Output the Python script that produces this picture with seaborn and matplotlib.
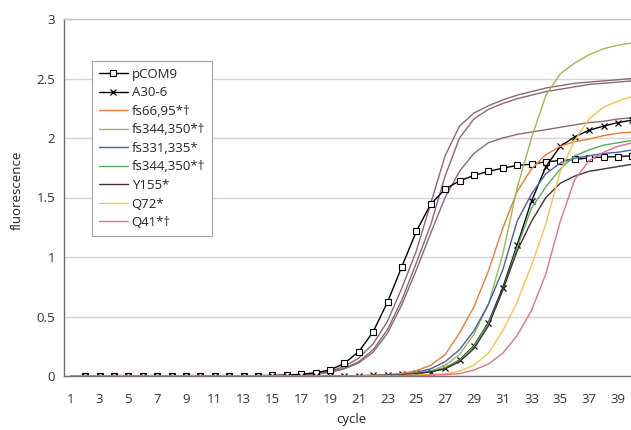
import numpy as np
import pandas as pd
import seaborn as sns
import matplotlib.pyplot as plt

# cycle numbers and fluorescence readings per construct
cycles = list(range(1, 41))

pcom9 = [np.nan, 0, 0, 0, 0, 0, 0, 0, 0, 0,
         0, 0.001, 0.002, 0.003, 0.005, 0.008, 0.014, 0.028, 0.05, 0.106,
         0.204, 0.371, 0.62, 0.92, 1.215, 1.444, 1.57, 1.64, 1.685, 1.72,
         1.746, 1.77, 1.78, 1.80, 1.81, 1.82, 1.833, 1.84, 1.844, 1.85]
a30_6 = [np.nan, 0, 0, 0, 0, 0, 0, 0, 0, 0,
         0, 0, 0, 0, 0, 0, 0, 0, 0.001, 0.002,
         0.003, 0.005, 0.008, 0.017, 0.022, 0.036, 0.065, 0.134, 0.254, 0.447,
         0.74, 1.10, 1.47, 1.76, 1.93, 2.01, 2.065, 2.10, 2.13, 2.15]
fs66_95 = [0] * 20 + [0.002, 0.005, 0.01, 0.02, 0.045, 0.09, 0.18, 0.36, 0.58, 0.88,
                      1.24, 1.55, 1.74, 1.86, 1.93, 1.97, 1.99, 2.02, 2.04, 2.05]
fs344_350a = [0] * 20 + [0.001, 0.003, 0.006, 0.012, 0.022, 0.04, 0.09, 0.18, 0.35, 0.6,
                         1.02, 1.58, 2.0, 2.36, 2.54, 2.63, 2.7, 2.75, 2.78, 2.8]
fs331_335 = [0] * 20 + [0.001, 0.003, 0.006, 0.012, 0.03, 0.06, 0.12, 0.22, 0.38, 0.6,
                        0.89, 1.3, 1.53, 1.7, 1.79, 1.83, 1.85, 1.87, 1.88, 1.9]
fs344_350b = [0] * 20 + [0.001, 0.002, 0.005, 0.01, 0.025, 0.04, 0.07, 0.13, 0.25, 0.44,
                         0.72, 1.08, 1.41, 1.59, 1.74, 1.85, 1.9, 1.94, 1.96, 1.98]
y155 = [0] * 20 + [0.001, 0.002, 0.005, 0.01, 0.02, 0.035, 0.06, 0.12, 0.23, 0.42,
                   0.72, 1.05, 1.3, 1.5, 1.62, 1.68, 1.72, 1.74, 1.76, 1.78]
q72 = [0] * 20 + [0, 0.001, 0.002, 0.004, 0.008, 0.012, 0.02, 0.04, 0.09, 0.19,
                  0.38, 0.62, 0.93, 1.28, 1.72, 1.98, 2.16, 2.26, 2.31, 2.35]
q41 = [0] * 20 + [0, 0, 0.001, 0.002, 0.004, 0.007, 0.012, 0.02, 0.05, 0.1,
                  0.19, 0.34, 0.55, 0.86, 1.3, 1.65, 1.81, 1.88, 1.93, 1.96]

# unlabelled early curves (not named in the legend)
early_a = [0] * 14 + [0.002, 0.005, 0.01, 0.02, 0.035, 0.065, 0.12, 0.22, 0.39, 0.64, 0.95, 1.27,
                      1.68, 2.0, 2.16, 2.24, 2.29, 2.33, 2.36, 2.39, 2.41, 2.43, 2.45, 2.46,
                      2.47, 2.48]
early_b = [0] * 15 + [0.005, 0.01, 0.02, 0.04, 0.08, 0.15, 0.27, 0.46, 0.74, 1.05,
                      1.45, 1.85, 2.1, 2.21, 2.27, 2.32, 2.36, 2.39, 2.42, 2.44,
                      2.46, 2.47, 2.48, 2.49, 2.50]
early_c = [0] * 16 + [0.005, 0.015, 0.03, 0.06, 0.11, 0.2, 0.36, 0.6, 0.89, 1.2,
                      1.5, 1.72, 1.87, 1.96, 2.0, 2.03, 2.05, 2.07, 2.09, 2.11,
                      2.13, 2.14, 2.16, 2.17]

labels = ['pCOM9', 'A30-6', 'fs66,95*†', 'fs344,350*†', 'fs331,335*',
          'fs344,350*†', 'Y155*', 'Q72*', 'Q41*†']
series = [pcom9, a30_6, fs66_95, fs344_350a, fs331_335, fs344_350b, y155, q72, q41]
colors = ['black', 'black', '#EE7B35', '#9DB94F', '#4A5DB0', '#55AE5C',
          '#4A3034', '#F2C744', '#E0718F']
markers = ['s', 'x', None, None, None, None, None, None, None]

sns.set_style('white')
plt.rcParams['font.family'] = ['Open Sans', 'DejaVu Sans']

fig = plt.figure(figsize=(6.31, 4.30), dpi=100)
ax = fig.add_axes([63.5 / 631, 54 / 430, 576 / 631, 357 / 430])

# background curves first
for vals in [early_a, early_b, early_c]:
    sns.lineplot(x=cycles, y=vals, ax=ax, color='#8B6878', linewidth=1.0, legend=False)

for vals, lab, col, mk in zip(series, labels, colors, markers):
    kw = dict(color=col, linewidth=1.0, label=lab)
    if mk == 's':
        kw.update(marker='s', markersize=4, markerfacecolor='white',
                  markeredgecolor='black', markeredgewidth=0.8)
    elif mk == 'x':
        kw.update(marker='x', markersize=4.5, markeredgecolor='black',
                  markeredgewidth=0.9)
    sns.lineplot(x=cycles, y=vals, ax=ax, **kw)

ax.set_xlim(0.5, 40.5)
ax.set_ylim(0, 3)
ax.set_xticks(range(1, 41, 2))
ax.set_xticks(np.arange(0.5, 41, 1), minor=True)
ax.set_yticks([0, 0.5, 1, 1.5, 2, 2.5, 3])
ax.set_yticklabels(['0', '0.5', '1', '1.5', '2', '2.5', '3'])
ax.tick_params(axis='x', which='major', length=0, labelsize=9.5, pad=12, colors='#333333')
ax.tick_params(axis='x', which='minor', length=3, direction='out', color='#8a7a80', width=0.8)
ax.tick_params(axis='y', length=3, direction='out', color='#8a7a80', labelsize=9.5,
               pad=3, colors='#333333')
ax.yaxis.grid(True, color='#d9d2d6', linewidth=1.0)
ax.set_axisbelow(True)
ax.spines['right'].set_visible(False)
ax.spines['left'].set_color('#7a6a70')
ax.spines['bottom'].set_color('#7a6a70')
ax.spines['top'].set_color('#c9bfc4')
for s in ['left', 'bottom', 'top']:
    ax.spines[s].set_linewidth(1.0)

ax.set_xlabel('cycle', fontsize=9.5, color='#222222')
ax.set_ylabel('fluorescence', fontsize=9.5, color='#222222')
ax.xaxis.set_label_coords(0.5, -0.105)
ax.yaxis.set_label_coords(-0.069, 0.52)

leg = ax.legend(loc='upper left', bbox_to_anchor=(0.0495, 0.882), borderaxespad=0,
                fontsize=9.5, frameon=True, fancybox=False, framealpha=1,
                edgecolor='#a8a0a4', handlelength=2.2, handletextpad=0.3,
                labelspacing=0.42, borderpad=0.5)
leg.get_frame().set_linewidth(0.8)

fig.savefig('out.png', dpi=100)
